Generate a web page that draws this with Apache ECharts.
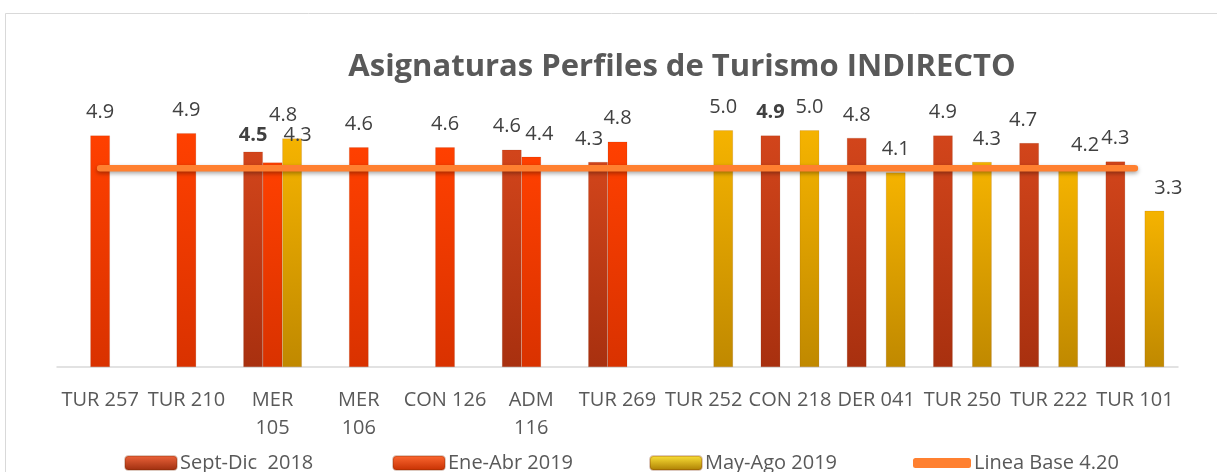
<!DOCTYPE html>
<html>
<head>
<meta charset="utf-8">
<script src="https://cdn.jsdelivr.net/npm/echarts@6/dist/echarts.min.js"></script>
<style>
html,body{margin:0;padding:0;background:#fff;}
#chart{width:1217px;height:472px;}
</style>
</head>
<body>
<div id="chart"></div>
<script>
var categories = ['TUR 257','TUR 210','MER 105','MER 106','CON 126','ADM 116','TUR 269','TUR 252','CON 218','DER 041','TUR 250','TUR 222','TUR 101'];
var septDic2018 = [null, null, 4.55, null, null, 4.59, 4.33, null, 4.89, 4.84, 4.89, 4.73, 4.34];
var eneAbr2019 = [4.89, 4.94, 4.32, 4.64, 4.64, 4.44, 4.76, null, null, null, null, null, null];
var mayAgo2019 = [null, null, 4.83, null, null, null, null, 5.0, 5.0, 4.11, 4.33, 4.2, 3.3];
var lineaBase = [4.2, 4.2, 4.2, 4.2, 4.2, 4.2, 4.2, 4.2, 4.2, 4.2, 4.2, 4.2, 4.2];
var seriesNames = ['Sept-Dic  2018', 'Ene-Abr 2019', 'May-Ago 2019', 'Linea Base 4.20'];

// label styling tweaks (per series, per category)
var labelNudge = {
  0: {'MER 105': {offset: [0, 7], fontWeight: 'bold'}, 'ADM 116': {offset: [-5, 0]}, 'TUR 269': {offset: [-9, 0]}, 'CON 218': {fontWeight: 'bold'}, 'TUR 222': {offset: [-6, 0]}},
  1: {'MER 105': {offset: [25, -4]}, 'ADM 116': {offset: [8, 0]}},
  2: {'MER 105': {offset: [-9, 0]}, 'TUR 250': {offset: [5, 0]}, 'TUR 222': {offset: [17, 0]}, 'TUR 101': {offset: [14, 0]}}
};

function grad(top, bottom) {
  return new echarts.graphic.LinearGradient(0, 0, 0, 1, [{offset: 0, color: top}, {offset: 1, color: bottom}]);
}
var barColors = [
  {fill: grad('#D2451B', '#A8300F'), legend: grad('#F0653C', '#9A2C0D')},
  {fill: grad('#FF4000', '#D93200'), legend: grad('#FF6A33', '#C42E00')},
  {fill: grad('#F5B300', '#C08900'), legend: grad('#FFE53A', '#A87A00')}
];

function buildBar(idx, values) {
  return {
    name: seriesNames[idx],
    type: 'bar',
    barWidth: 19.5,
    barGap: '0%',
    z: 2,
    itemStyle: {color: barColors[idx].fill, borderColor: 'rgba(120,40,0,0.25)', borderWidth: 0.5},
    label: {show: true, position: 'top', distance: 13, fontSize: 20, color: '#404040', fontFamily: 'Open Sans', formatter: function (p) { return p.value == null ? '' : p.value.toFixed(1); }},
    data: values.map(function (v, i) {
      var n = labelNudge[idx][categories[i]];
      var item = {value: v};
      if (n) item.label = n;
      return item;
    })
  };
}

var wrapped = ['MER 105', 'MER 106', 'ADM 116'];

var chart = echarts.init(document.getElementById('chart'));
var legendBase = {
  top: 448, itemWidth: 52, itemHeight: 14, itemGap: 6,
  textStyle: {fontSize: 20, color: '#595959', fontFamily: 'Open Sans', lineHeight: 20, padding: [0, 0, 0, -2]}
};
function legendAt(left, name, extra) {
  return Object.assign({}, legendBase, {left: left, data: [name]}, extra || {});
}
chart.setOption({
  animation: false,
  backgroundColor: '#fff',
  title: {
    text: 'Asignaturas Perfiles de Turismo INDIRECTO',
    left: 677, top: 47, textAlign: 'center',
    textStyle: {fontSize: 31, fontWeight: 'bold', color: '#595959', fontFamily: 'Open Sans'}
  },
  graphic: [{type: 'rect', left: 3, top: 11, shape: {width: 1230, height: 480}, style: {fill: 'none', stroke: '#D9D9D9', lineWidth: 1}, silent: true, z: -1}],
  legend: [
    legendAt(119, seriesNames[0], {itemStyle: {color: barColors[0].legend}}),
    legendAt(387, seriesNames[1], {itemStyle: {color: barColors[1].legend}}),
    legendAt(644, seriesNames[2], {itemStyle: {color: barColors[2].legend}}),
    legendAt(908, seriesNames[3], {icon: 'roundRect', itemWidth: 58, itemHeight: 10})
  ],
  grid: {left: 57, right: 39, top: 83, bottom: 105, containLabel: false},
  xAxis: {
    type: 'category',
    data: categories,
    boundaryGap: true,
    axisLine: {lineStyle: {color: '#D9D9D9', width: 1.5}},
    axisTick: {show: false},
    axisLabel: {
      interval: 0, margin: 19, fontSize: 20, lineHeight: 28, color: '#595959', fontFamily: 'Open Sans',
      formatter: function (v) { return wrapped.indexOf(v) >= 0 ? v.replace(' ', '\n') : v; }
    }
  },
  yAxis: {type: 'value', min: 0, max: 6, show: false, splitLine: {show: false}},
  series: [
    buildBar(0, septDic2018),
    buildBar(1, eneAbr2019),
    buildBar(2, mayAgo2019),
    {
      name: seriesNames[3],
      type: 'line',
      data: lineaBase,
      z: 5,
      symbol: 'none',
      lineStyle: {color: '#FF8030', width: 6.5, cap: 'round', shadowColor: 'rgba(0,0,0,0.35)', shadowBlur: 4, shadowOffsetY: 2},
      itemStyle: {color: '#FF8030'}
    }
  ]
});
</script>
</body>
</html>
